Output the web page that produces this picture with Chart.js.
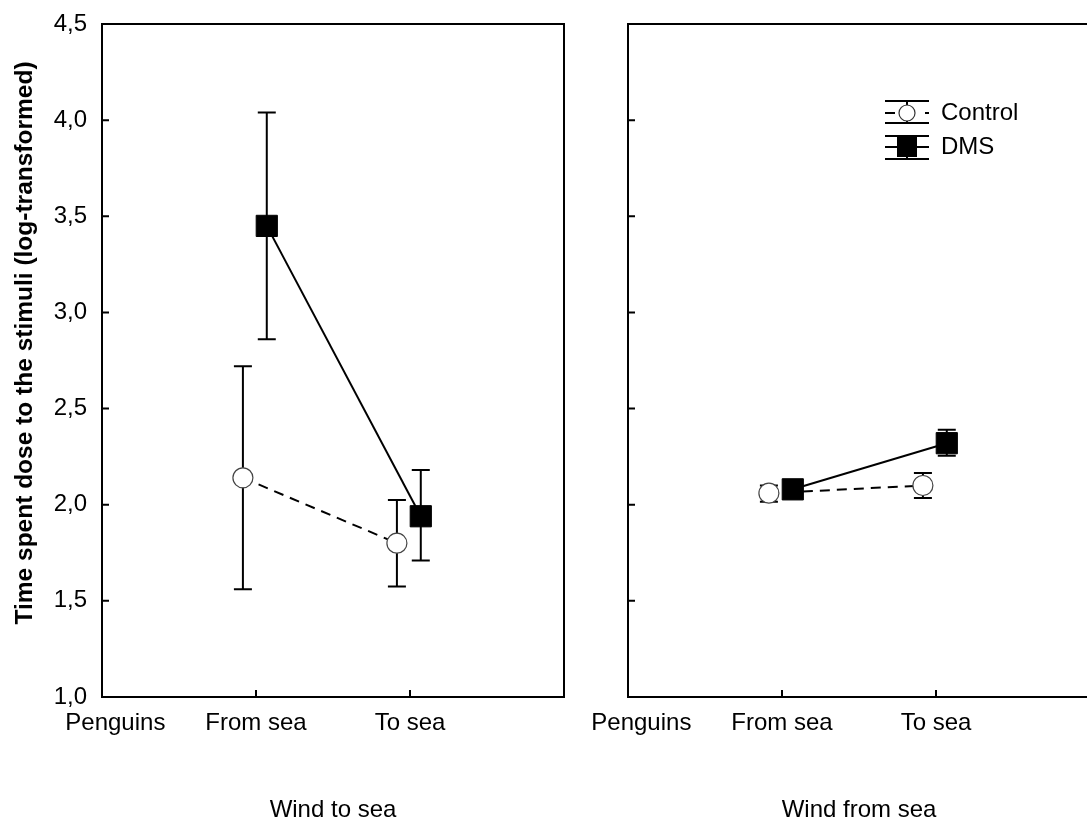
<!DOCTYPE html>
<html>
<head>
<meta charset="utf-8">
<script src="https://cdn.jsdelivr.net/npm/chart.js@4"></script>
<style>
body { margin: 0; background: #fff; overflow: hidden; width: 1087px; height: 828px; position: relative; }
canvas { position: absolute; top: 0; }
#left { left: 0; }
#right { left: 580px; }
</style>
</head>
<body>
<canvas id="left" width="580" height="828"></canvas>
<canvas id="right" width="520" height="828"></canvas>
<script>
// x categories (Penguins has no data)
const categories = ['Penguins', 'From sea', 'To sea'];
const yTitle = 'Time spent dose to the stimuli (log-transformed)';

// panel 1: wind to sea
const toSeaControl = [null, 2.14, 1.80];
const toSeaControlLow = [null, 1.56, 1.575];
const toSeaControlHigh = [null, 2.72, 2.025];
const toSeaDMS = [null, 3.45, 1.94];
const toSeaDMSLow = [null, 2.86, 1.71];
const toSeaDMSHigh = [null, 4.04, 2.18];

// panel 2: wind from sea
const fromSeaControl = [null, 2.06, 2.10];
const fromSeaControlLow = [null, 2.015, 2.035];
const fromSeaControlHigh = [null, 2.10, 2.165];
const fromSeaDMS = [null, 2.08, 2.32];
const fromSeaDMSLow = [null, 2.05, 2.255];
const fromSeaDMSHigh = [null, 2.11, 2.39];

Chart.defaults.font.family = "'Liberation Sans', Arial, sans-serif";
Chart.defaults.font.size = 24;
Chart.defaults.color = '#000';

// build points with their error limits, shifted a little off the category
function points(vals, lo, hi, shift) {
    let out = [];
    for (let i = 0; i < vals.length; i++) {
        if (vals[i] == null) continue;
        out.push({ x: i + shift, y: vals[i], lo: lo[i], hi: hi[i] });
    }
    return out;
}

// box, inward ticks and error bars
const frame = {
    id: 'frame',
    beforeDatasetsDraw(chart) {
        const { ctx, chartArea: a } = chart;
        const x = chart.scales.x, y = chart.scales.y;
        ctx.save();
        ctx.strokeStyle = '#000';
        ctx.lineWidth = 2;
        ctx.strokeRect(a.left, a.top, a.right - a.left, a.bottom - a.top);
        ctx.beginPath();
        y.ticks.forEach(t => {
            const py = y.getPixelForValue(t.value);
            ctx.moveTo(a.left, py);
            ctx.lineTo(a.left + 7, py);
        });
        x.ticks.forEach(t => {
            if (t.value <= 0 || t.value >= categories.length) return;
            const px = x.getPixelForValue(t.value);
            ctx.moveTo(px, a.bottom);
            ctx.lineTo(px, a.bottom - 7);
        });
        ctx.stroke();

        chart.data.datasets.forEach(ds => {
            ds.data.forEach(p => {
                const px = x.getPixelForValue(p.x);
                const top = y.getPixelForValue(p.hi);
                const bot = y.getPixelForValue(p.lo);
                ctx.beginPath();
                ctx.moveTo(px, top); ctx.lineTo(px, bot);
                ctx.moveTo(px - 9, top); ctx.lineTo(px + 9, top);
                ctx.moveTo(px - 9, bot); ctx.lineTo(px + 9, bot);
                ctx.stroke();
            });
        });

        // y axis title, left panel only
        if (chart.canvas.id === 'left') {
            ctx.translate(25, 343);
            ctx.rotate(-Math.PI / 2);
            ctx.font = "bold 24.5px 'Liberation Sans', Arial, sans-serif";
            ctx.fillStyle = '#000';
            ctx.textAlign = 'center';
            ctx.textBaseline = 'middle';
            ctx.fillText(yTitle, 0, 0);
        }
        ctx.restore();
    }
};

// legend in the right panel
const legendBox = {
    id: 'legendBox',
    afterDraw(chart) {
        const { ctx, chartArea: a } = chart;
        const x0 = a.left + 257, x1 = x0 + 44, cx = x0 + 22;
        let yc = a.top + 89;
        ctx.save();
        ctx.strokeStyle = '#000';
        ctx.lineWidth = 2;
        // Control
        ctx.beginPath();
        ctx.moveTo(x0, yc - 12); ctx.lineTo(x1, yc - 12);
        ctx.moveTo(x0, yc + 10); ctx.lineTo(x1, yc + 10);
        ctx.moveTo(cx, yc - 12); ctx.lineTo(cx, yc + 10);
        ctx.moveTo(x0, yc); ctx.lineTo(x0 + 10, yc);
        ctx.moveTo(x1 - 4, yc); ctx.lineTo(x1, yc);
        ctx.stroke();
        ctx.beginPath();
        ctx.arc(cx, yc, 8, 0, Math.PI * 2);
        ctx.fillStyle = '#fff';
        ctx.fill();
        ctx.lineWidth = 1.2;
        ctx.strokeStyle = '#333';
        ctx.stroke();
        // DMS
        let yd = a.top + 123;
        ctx.strokeStyle = '#000';
        ctx.lineWidth = 2;
        ctx.beginPath();
        ctx.moveTo(x0, yd - 11); ctx.lineTo(x1, yd - 11);
        ctx.moveTo(x0, yd + 12); ctx.lineTo(x1, yd + 12);
        ctx.moveTo(x0, yd); ctx.lineTo(x1, yd);
        ctx.moveTo(cx, yd - 11); ctx.lineTo(cx, yd + 12);
        ctx.stroke();
        ctx.fillStyle = '#000';
        ctx.fillRect(cx - 10, yd - 10, 20, 20);

        ctx.font = "24px 'Liberation Sans', Arial, sans-serif";
        ctx.textBaseline = 'middle';
        ctx.textAlign = 'left';
        ctx.fillText('Control', x1 + 12, yc);
        ctx.fillText('DMS', x1 + 12, yd);
        ctx.restore();
    }
};

function makeChart(id, title, ctrl, dms, yWidth, padRight, showY) {
    return new Chart(document.getElementById(id), {
        type: 'line',
        data: {
            datasets: [
                {
                    label: 'Control',
                    data: ctrl,
                    borderColor: '#000',
                    borderWidth: 2,
                    borderDash: [10, 7],
                    pointStyle: 'circle',
                    pointRadius: 10,
                    pointBackgroundColor: '#fff',
                    pointBorderColor: '#444',
                    pointBorderWidth: 1.2
                },
                {
                    label: 'DMS',
                    data: dms,
                    borderColor: '#000',
                    borderWidth: 2,
                    pointStyle: 'rect',
                    pointRadius: 15,
                    pointBackgroundColor: '#000',
                    pointBorderColor: '#000',
                    pointBorderWidth: 1
                }
            ]
        },
        options: {
            responsive: false,
            animation: false,
            devicePixelRatio: 1,
            layout: { autoPadding: false, padding: { top: 24, right: padRight, left: 0, bottom: 0 } },
            plugins: { legend: { display: false }, tooltip: { enabled: false } },
            scales: {
                x: {
                    type: 'linear',
                    min: 0,
                    max: categories.length,
                    grid: { display: false },
                    border: { display: false },
                    ticks: {
                        stepSize: 1,
                        autoSkip: false,
                        maxRotation: 0,
                        padding: 4,
                        // first label sits a bit right of the axis in the original
                        callback: v => v === 0 ? '    ' + categories[0] : (categories[v] || '')
                    },
                    title: { display: true, text: title, padding: { top: 0, bottom: 3 } },
                    afterFit: s => { s.height = 131; s.paddingLeft = 0; s.paddingRight = 0; }
                },
                y: {
                    min: 1,
                    max: 4.5,
                    grid: { display: false },
                    border: { display: false },
                    ticks: {
                        display: showY,
                        stepSize: 0.5,
                        padding: 7,
                        callback: v => v.toFixed(1).replace('.', ',')
                    },
                    afterFit: s => { s.width = yWidth; s.paddingTop = 0; s.paddingBottom = 0; }
                }
            }
        },
        plugins: id === 'right' ? [frame, legendBox] : [frame]
    });
}

makeChart('left', 'Wind to sea',
    points(toSeaControl, toSeaControlLow, toSeaControlHigh, -0.085),
    points(toSeaDMS, toSeaDMSLow, toSeaDMSHigh, 0.07),
    102, 16, true);

makeChart('right', 'Wind from sea',
    points(fromSeaControl, fromSeaControlLow, fromSeaControlHigh, -0.085),
    points(fromSeaDMS, fromSeaDMSLow, fromSeaDMSHigh, 0.07),
    48, 10, false);
</script>
</body>
</html>
